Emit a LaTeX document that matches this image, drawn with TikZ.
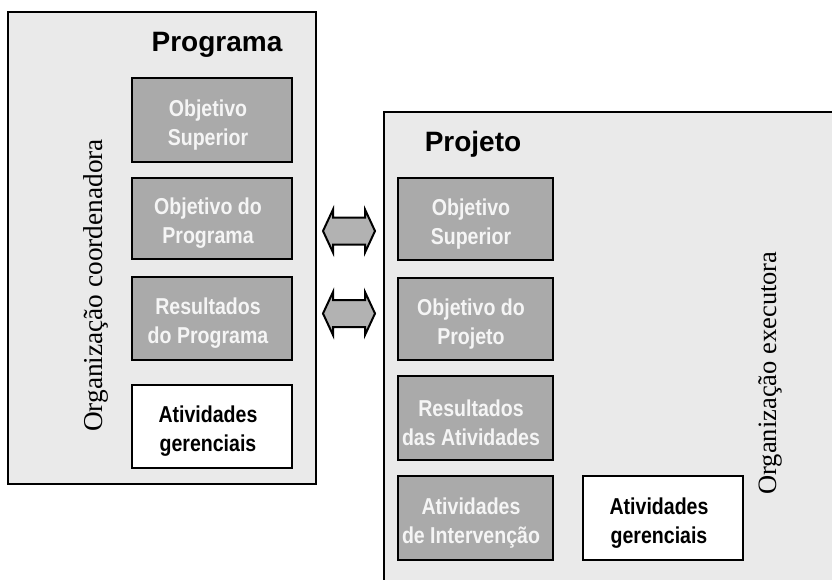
\documentclass[tikz,border=0pt]{standalone}
\usepackage{fontspec}
\setmainfont{Liberation Serif}
\newfontfamily\narrowsans[FakeStretch=0.85]{Liberation Sans}
\newfontfamily\headsans{Liberation Sans}
\definecolor{panelgray}{RGB}{234,234,234}
\definecolor{boxgray}{RGB}{170,170,170}
\definecolor{arrowgray}{RGB}{178,178,178}
\definecolor{boxtext}{RGB}{245,245,245}
\tikzset{
  panel/.style={draw=black, line width=2pt, fill=panelgray},
  graybox/.style={draw=black, line width=2pt, fill=boxgray, rectangle, inner sep=0pt},
  whitebox/.style={draw=black, line width=2pt, fill=white, rectangle, inner sep=0pt},
  boxlabel/.style={align=center, inner sep=0pt, font=\narrowsans\bfseries\fontsize{23}{29}\selectfont},
  graylabel/.style={boxlabel, text=boxtext},
  blacklabel/.style={boxlabel, text=black},
  title/.style={font=\headsans\bfseries\fontsize{28}{34}\selectfont, inner sep=0pt, anchor=base},
  vlabel/.style={font=\fontsize{26.5}{30}\selectfont, inner sep=0pt, anchor=base, rotate=90},
  dblarrow/.style={draw=black, line width=2pt, fill=arrowgray, line join=miter}
}
\begin{document}
\begin{tikzpicture}[x=1pt,y=-1pt]
\useasboundingbox (0,0) rectangle (832,580);
\clip (0,0) rectangle (832,580);
\fill[white] (0,0) rectangle (832,580);

% panels
\draw[panel] (8,12) rectangle (316,484);
\draw[panel] (384,112) rectangle (860,610);

% titles
\node[title] (prog) at (217,52) {Programa};
\node[title] (proj) at (473,152) {Projeto};

% vertical labels
\node[vlabel, font=\fontsize{27.3}{30}\selectfont] (orgc) at (102,285.5) {Organização coordenadora};
\node[vlabel] (orge) at (776,373) {Organização executora};

% left boxes
\node[graybox, minimum width=160pt, minimum height=84pt] (l1) at (212,120) {};
\node[graybox, minimum width=160pt, minimum height=81pt] (l2) at (212,218.5) {};
\node[graybox, minimum width=160pt, minimum height=83pt] (l3) at (212,318.5) {};
\node[whitebox, minimum width=160pt, minimum height=83pt] (l4) at (212,426.5) {};
\node[graylabel] (l1t) at (208,125) {Objetivo\\Superior};
\node[graylabel] (l2t) at (208,223.5) {Objetivo do\\Programa};
\node[graylabel] (l3t) at (208,323.5) {Resultados\\do Programa};
\node[blacklabel] (l4t) at (208,431.5) {Atividades\\gerenciais};

% right boxes
\node[graybox, minimum width=155pt, minimum height=82pt] (r1) at (475.5,219) {};
\node[graybox, minimum width=155pt, minimum height=82pt] (r2) at (475.5,319) {};
\node[graybox, minimum width=155pt, minimum height=84pt] (r3) at (475.5,418) {};
\node[graybox, minimum width=155pt, minimum height=84pt] (r4) at (475.5,518) {};
\node[whitebox, minimum width=160pt, minimum height=84pt] (r5) at (663,518) {};
\node[graylabel] (r1t) at (471,224) {Objetivo\\Superior};
\node[graylabel] (r2t) at (471,324) {Objetivo do\\Projeto};
\node[graylabel] (r3t) at (471,423) {Resultados\\das Atividades};
\node[graylabel] (r4t) at (471,523) {Atividades\\de Intervenção};
\node[blacklabel] (r5t) at (659,523) {Atividades\\gerenciais};

% double arrows
\coordinate (a1) at (349,231);
\coordinate (a2) at (349,313.5);
\foreach \c in {a1,a2}{
  \draw[dblarrow, shift={(\c)}] (-26,0) -- ++(10,-21.5) -- ++(0,8) -- ++(32,0) -- ++(0,-8)
     -- ++(10,21.5) -- ++(-10,21.5) -- ++(0,-8) -- ++(-32,0) -- ++(0,8) -- cycle;
}
\end{tikzpicture}
\end{document}
